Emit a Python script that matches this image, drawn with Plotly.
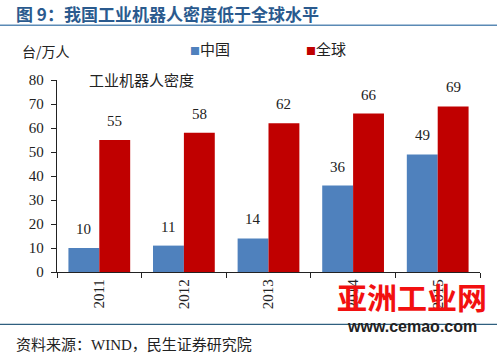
import plotly.graph_objects as go

years = ["2011", "2012", "2013", "2014", "2015"]
china = [10, 11, 14, 36, 49]
world = [55, 58, 62, 66, 69]
series_names = ["中国", "全球"]
y_ticks = [0, 10, 20, 30, 40, 50, 60, 70, 80]

BLUE = "#4F81BD"
RED = "#C00000"
SERIF = "Liberation Serif, Noto Sans CJK SC, serif"
CJK = "Noto Sans CJK SC, sans-serif"

fig = go.Figure()
fig.add_bar(x=years, y=china, name=series_names[0], marker_color=BLUE, marker_line_width=0)
fig.add_bar(x=years, y=world, name=series_names[1], marker_color=RED, marker_line_width=0)

W, H = 497, 359
ml, mr, mt, mb = 57, 17, 80, 86.5
fig.update_layout(
    width=W, height=H,
    margin=dict(l=ml, r=mr, t=mt, b=mb, pad=0, autoexpand=False),
    paper_bgcolor="white", plot_bgcolor="white",
    barmode="group", bargap=0.27, bargroupgap=0,
    showlegend=False,
    font=dict(family=SERIF, size=13, color="#222"),
)
fig.update_xaxes(
    type="category", range=[-0.5, len(years) - 0.5], autorange=False, automargin=False,
    showline=True, linecolor="#222", linewidth=1.3,
    ticks="outside", tickson="boundaries", ticklen=5, tickcolor="#222", tickwidth=1.3,
    tickangle=-90, tickfont=dict(family=SERIF, size=15, color="#222"),
    showgrid=False, zeroline=False,
)
fig.update_yaxes(
    range=[0, 80], autorange=False, automargin=False, tickvals=y_ticks,
    showline=True, linecolor="#222", linewidth=1.3,
    ticks="outside", ticklen=5, tickcolor="#222", tickwidth=1.3,
    tickfont=dict(family=SERIF, size=15, color="#222"), ticklabelstandoff=4,
    showgrid=False, zeroline=False,
)

pw = W - ml - mr
ph = H - mt - mb
def py(y):
    return (H - mb - y) / ph
def px(x):
    return (x - ml) / pw

# data labels
cat_w = pw / len(years)
bar_w = cat_w * (1 - 0.27) / 2
for vals, sign in ((china, -1), (world, 1)):
    for i, v in enumerate(vals):
        fig.add_annotation(x=i, y=v, text=str(v), showarrow=False, xref="x", yref="y",
                           xshift=sign * bar_w / 2, yshift=19,
                           font=dict(family=SERIF, size=15, color="#222"))

# rules
fig.add_shape(type="line", xref="paper", yref="paper", x0=px(0), x1=px(W), y0=py(25), y1=py(25),
              line=dict(color="#5A8AB5", width=1.5))
fig.add_shape(type="line", xref="paper", yref="paper", x0=px(0), x1=px(W), y0=py(325), y1=py(325),
              line=dict(color="#2F5F7F", width=1.2))

# title
fig.add_annotation(x=px(14), y=py(13), xref="paper", yref="paper", xanchor="left", yanchor="middle",
                   text="<b>图 9：我国工业机器人密度低于全球水平</b>", showarrow=False,
                   font=dict(family=CJK, size=17, color="#2A5A8E"))

# unit and legend
fig.add_annotation(x=px(20), y=py(51), xref="paper", yref="paper", xanchor="left", yanchor="middle",
                   text="台/万人", showarrow=False, font=dict(family=CJK, size=14, color="#222"))
for name, col, x0 in ((series_names[0], BLUE, 188), (series_names[1], RED, 304)):
    fig.add_annotation(x=px(x0), y=py(48), xref="paper", yref="paper", xanchor="left", yanchor="middle",
                       text=f'<span style="color:{col}; font-size:10px">■</span>{name}', showarrow=False,
                       font=dict(family=CJK, size=15, color="#222"))
fig.add_annotation(x=px(87), y=py(79), xref="paper", yref="paper", xanchor="left", yanchor="middle",
                   text="工业机器人密度", showarrow=False, font=dict(family=CJK, size=15, color="#222"))

# source
fig.add_annotation(x=px(14), y=py(345), xref="paper", yref="paper", xanchor="left", yanchor="middle",
                   text="资料来源：WIND，民生证券研究院", showarrow=False,
                   font=dict(family=SERIF, size=15, color="#222"))

# watermark
fig.add_annotation(x=px(412), y=py(297), xref="paper", yref="paper", xanchor="center", yanchor="middle",
                   text="<b>亚洲工业网</b>", showarrow=False,
                   font=dict(family=CJK, size=30, color="#F21010"))
fig.add_annotation(x=px(412), y=py(327), xref="paper", yref="paper", xanchor="center", yanchor="middle",
                   text="<b>www.cemao.com</b>", showarrow=False,
                   font=dict(family="Liberation Sans, Arial, sans-serif", size=16, color="#222"))

fig.write_html("out.html", config={"displayModeBar": False},
               post_script="document.body.style.margin='0';")
